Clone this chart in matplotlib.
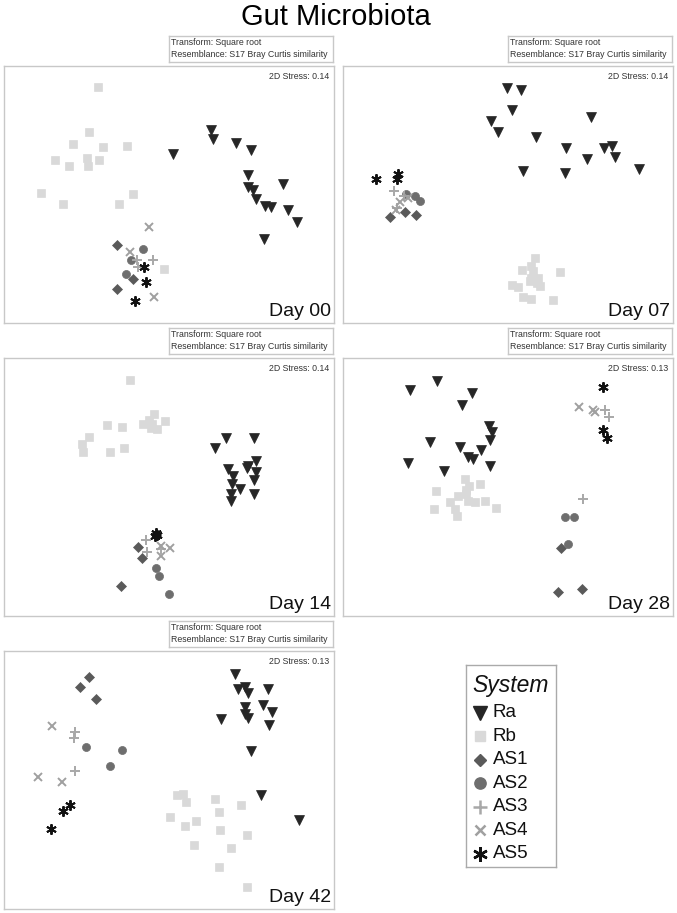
import matplotlib
matplotlib.use("Agg")
import matplotlib.pyplot as plt

plt.rcParams['font.family'] = ['Liberation Sans', 'DejaVu Sans']

# ---- data (nMDS ordination coordinates) ----
groups = ["Ra", "Rb", "AS1", "AS2", "AS3", "AS4", "AS5"]
days = ["Day 00", "Day 07", "Day 14", "Day 28", "Day 42"]
stress = ["0.14", "0.14", "0.14", "0.13", "0.13"]

d00_Ra = [(517,372),(630,300),(636,326),(706,338),(750,360),(742,435),(742,470),(757,480),
          (766,508),(792,528),(810,532),(848,462),(861,540),(888,578),(791,627)]
d00_Rb = [(292,172),(265,305),(217,342),(307,350),(379,347),(163,390),(259,383),(206,409),
          (263,407),(296,391),(122,489),(188,523),(355,522),(397,492),(490,718)]
d00_AS1 = [(350,647),(396,748),(348,778)]
d00_AS2 = [(428,657),(392,692),(377,733)]
d00_AS3 = [(410,692),(456,692),(413,712)]
d00_AS4 = [(444,591),(389,668),(459,801)]
d00_AS5 = [(430,712),(437,757),(403,813)]

d07_Ra = [(503,175),(543,180),(516,240),(454,272),(476,307),(590,320),(755,262),(678,355),
          (793,355),(817,347),(827,381),(743,387),(551,422),(677,428),(899,416)]
d07_Rb = [(585,685),(575,710),(546,722),(660,728),(574,745),(594,745),(570,755),(593,760),
          (518,765),(536,773),(550,803),(574,808),(640,810),(580,725),(600,770)]
d07_AS1 = [(150,562),(196,548),(228,556)]
d07_AS2 = [(200,494),(225,500),(240,515)]
d07_AS3 = [(162,482),(172,535),(192,498)]
d07_AS4 = [(182,518),(205,505),(168,540)]
d07_AS5 = [(109,448),(174,432),(172,447)]

d14_Ra = [(677,340),(759,338),(642,370),(765,408),(740,428),(683,432),(766,440),(698,452),
          (759,465),(693,478),(717,492),(692,508),(760,506),(690,528),(742,422)]
d14_Rb = [(388,167),(461,268),(444,285),(320,300),(365,305),(428,298),(452,308),(468,312),
          (494,290),(264,335),(243,357),(247,382),(327,381),(370,368),(455,298)]
d14_AS1 = [(413,667),(423,697),(361,783)]
d14_AS2 = [(467,727),(474,751),(505,806)]
d14_AS3 = [(437,645),(440,680),(480,672)]
d14_AS4 = [(482,662),(509,670),(481,693)]
d14_AS5 = [(465,625),(468,629),(463,632)]

d28_Ra = [(211,196),(293,170),(396,205),(367,240),(448,304),(456,320),(451,345),(272,352),
          (362,365),(424,374),(386,395),(400,403),(204,413),(313,437),(450,423)]
d28_Rb = [(375,463),(388,483),(420,477),(290,498),(354,512),(380,507),(330,530),(384,527),
          (407,530),(437,527),(470,548),(284,552),(345,552),(353,573),(380,495)]
d28_AS1 = [(663,668),(656,801),(728,792)]
d28_AS2 = [(677,575),(704,577),(685,658)]
d28_AS3 = [(795,255),(807,277),(731,522)]
d28_AS4 = [(718,247),(760,256),(765,262)]
d28_AS5 = [(789,186),(791,315),(802,340)]

d42_Ra = [(702,170),(711,215),(733,208),(741,226),(803,215),(786,262),(732,268),(814,283),
          (734,290),(742,300),(660,302),(804,322),(750,400),(782,531),(895,606)]
d42_Rb = [(530,531),(546,527),(555,553),(644,543),(720,562),(654,583),(507,596),(586,609),
          (554,623),(658,637),(740,650),(581,680),(691,688),(654,745),(739,806)]
d42_AS1 = [(265,177),(237,207),(286,245)]
d42_AS2 = [(256,388),(363,396),(329,444)]
d42_AS3 = [(223,343),(221,360),(222,459)]
d42_AS4 = [(155,324),(113,478),(183,491)]
d42_AS5 = [(207,560),(187,578),(152,632)]

panels = [
    [d00_Ra, d00_Rb, d00_AS1, d00_AS2, d00_AS3, d00_AS4, d00_AS5],
    [d07_Ra, d07_Rb, d07_AS1, d07_AS2, d07_AS3, d07_AS4, d07_AS5],
    [d14_Ra, d14_Rb, d14_AS1, d14_AS2, d14_AS3, d14_AS4, d14_AS5],
    [d28_Ra, d28_Rb, d28_AS1, d28_AS2, d28_AS3, d28_AS4, d28_AS5],
    [d42_Ra, d42_Rb, d42_AS1, d42_AS2, d42_AS3, d42_AS4, d42_AS5],
]

# ---- styles ----
ASTER = (6, 2, 0)
styles = {
    "Ra":  dict(marker="v", color="#262626", ms=7.0, filled=True),
    "Rb":  dict(marker="s", color="#d9d9d9", ms=5.4, filled=True),
    "AS1": dict(marker="D", color="#5a5a5a", ms=4.6, filled=True),
    "AS2": dict(marker="o", color="#6e6e6e", ms=5.8, filled=True),
    "AS3": dict(marker="+", color="#a8a8a8", ms=7.5, filled=False),
    "AS4": dict(marker="x", color="#a0a0a0", ms=5.5, filled=False),
    "AS5": dict(marker=ASTER, color="#111111", ms=7.5, filled=False),
}

W, H = 677, 913
fig = plt.figure(figsize=(W / 100, H / 100), dpi=100)

def fx(px):
    return px / W

def fy(py):
    return 1 - py / H

# panel rectangles in pixels: (left, top, right, bottom) and data limits
rects = [
    (4, 66, 334, 323, 108, 880),
    (343, 66, 673, 323, 108, 880),
    (4, 358, 334, 616, 100, 872),
    (343, 358, 673, 616, 100, 872),
    (4, 651, 334, 909, 100, 872),
]

edge = "#c8c8c8"
for i, (l, t, r, b, ytop, ybot) in enumerate(rects):
    ax = fig.add_axes([fx(l), fy(b), (r - l) / W, (b - t) / H])
    for gname, pts in zip(groups, panels[i]):
        st = styles[gname]
        xs = [p[0] for p in pts]
        ys = [p[1] for p in pts]
        if st["filled"]:
            ax.plot(xs, ys, linestyle="none", marker=st["marker"], ms=st["ms"],
                    mfc=st["color"], mec=st["color"], mew=0.5)
        else:
            ax.plot(xs, ys, linestyle="none", marker=st["marker"], ms=st["ms"],
                    color=st["color"], mew=1.4)
    ax.set_xlim(10, 1000)
    ax.set_ylim(ybot, ytop)
    ax.set_xticks([])
    ax.set_yticks([])
    for s in ax.spines.values():
        s.set_color(edge)
        s.set_linewidth(1.0)
    ax.text(0.985, 0.975, "2D Stress: " + stress[i], transform=ax.transAxes,
            ha="right", va="top", fontsize=6.3, color="#333333")
    ax.text(0.99, 0.012, days[i], transform=ax.transAxes, ha="right", va="bottom",
            fontsize=14, color="#111111")
    # annotation box above the panel
    bl, bt, br, bb = l + 165, t - 30, r - 1, t - 4
    bax = fig.add_axes([fx(bl), fy(bb), (br - bl) / W, (bb - bt) / H])
    bax.set_xticks([])
    bax.set_yticks([])
    for s in bax.spines.values():
        s.set_color(edge)
        s.set_linewidth(1.0)
    bax.text(0.015, 0.74, "Transform: Square root", transform=bax.transAxes,
             ha="left", va="center", fontsize=6.3, color="#333333")
    bax.text(0.015, 0.27, "Resemblance: S17 Bray Curtis similarity", transform=bax.transAxes,
             ha="left", va="center", fontsize=6.3, color="#333333")

fig.text(fx(336), fy(25), "Gut Microbiota", ha="center", va="baseline", fontsize=21)

# legend (drawn in its own axes)
ll, lt, lr, lb = 466, 665, 556, 867
lax = fig.add_axes([fx(ll), fy(lb), (lr - ll) / W, (lb - lt) / H])
lax.set_xlim(ll, lr)
lax.set_ylim(lb, lt)
lax.set_xticks([])
lax.set_yticks([])
for s in lax.spines.values():
    s.set_color("#aaaaaa")
    s.set_linewidth(1.0)
lax.text((ll + lr) / 2, 685, "System", ha="center", va="center", fontsize=16.5,
         style="italic", color="#111111")
for k, gname in enumerate(groups):
    yy = 712.5 + k * 23.5
    st = styles[gname]
    if st["filled"]:
        lax.plot([480], [yy], linestyle="none", marker=st["marker"], ms=st["ms"] * 1.4,
                 mfc=st["color"], mec=st["color"])
    else:
        lax.plot([480], [yy], linestyle="none", marker=st["marker"], ms=st["ms"] * 1.4,
                 color=st["color"], mew=1.8)
    lax.text(493, yy, gname, ha="left", va="center", fontsize=13.5, color="#111111")

fig.savefig("out.png", dpi=100)
